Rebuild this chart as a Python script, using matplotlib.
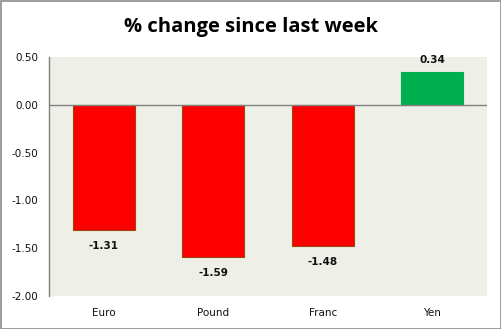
import matplotlib
matplotlib.use('Agg')
import matplotlib.pyplot as plt
from matplotlib.patches import Rectangle

# 데이터
categories = ['Euro', 'Pound', 'Franc', 'Yen']
values = [-1.31, -1.59, -1.48, 0.34]
value_labels = ['-1.31', '-1.59', '-1.48', '0.34']
ytick_values = [0.5, 0.0, -0.5, -1.0, -1.5, -2.0]

W, H = 502, 329
fig = plt.figure(figsize=(W / 100, H / 100), dpi=100)
fig.patch.set_facecolor('white')
# 바깥 테두리
fig.patches.append(Rectangle((0.5 / W, 0.5 / H), 1 - 1.5 / W, 1 - 1.5 / H,
                             transform=fig.transFigure, fill=False,
                             edgecolor='#8c8c8c', linewidth=1.2))

# 플롯 영역 (픽셀 기준 좌표)
left, right, top, bottom = 49, 487, 57, 296
ax = fig.add_axes([left / W, 1 - bottom / H, (right - left) / W, (bottom - top) / H])
ax.set_facecolor('#eef0e8')

colors = ['#ff0000' if v < 0 else '#00b050' for v in values]
edges = ['#984807' if v < 0 else '#00b050' for v in values]
x = list(range(len(categories)))
ax.bar(x, values, width=0.57, color=colors, edgecolor=edges, linewidth=0.8, zorder=3)

ax.set_xlim(-0.5, len(categories) - 0.5)
ax.set_ylim(-2.0, 0.5)
ax.axhline(0, color='#808080', linewidth=1, zorder=4)

for xi, v, lab in zip(x, values, value_labels):
    off = -11.5 if v < 0 else 9
    ax.annotate(lab, (xi, v), xytext=(0, off), textcoords='offset points',
                ha='center', va='center', fontsize=7.5, fontweight='bold',
                color='#111111', family='DejaVu Sans')

ax.set_yticks(ytick_values)
ax.set_yticklabels([f'{t:.2f}' for t in ytick_values], fontsize=7.5, color='#111111')
ax.set_xticks(x)
ax.set_xticklabels(categories, fontsize=7.5, color='#111111')
ax.tick_params(axis='y', length=0, pad=8)
ax.tick_params(axis='x', length=0, pad=9)

for s in ['top', 'right', 'bottom']:
    ax.spines[s].set_visible(False)
ax.spines['left'].set_color('#808080')
ax.spines['left'].set_linewidth(1)

fig.text(0.5, 1 - 27 / H, '% change since last week', ha='center', va='center',
         fontsize=14.5, fontweight='bold', family=['Open Sans', 'DejaVu Sans'])

fig.savefig('out.png', dpi=100)
